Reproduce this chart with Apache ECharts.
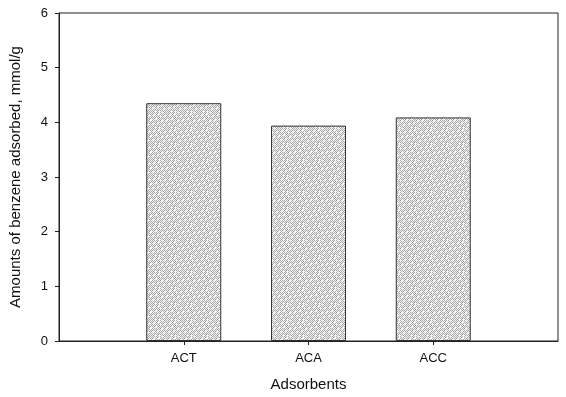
<!DOCTYPE html>
<html>
<head>
<meta charset="utf-8">
<script src="https://cdn.jsdelivr.net/npm/echarts@6/dist/echarts.min.js"></script>
<style>
  html, body { margin: 0; padding: 0; background: #fff; }
  #chart { width: 566px; height: 397px; }
</style>
</head>
<body>
<div id="chart"></div>
<script>
// Adsorbent samples and measured benzene uptake (mmol/g)
const categories = ['ACT', 'ACA', 'ACC'];
const uptake = [4.35, 3.94, 4.09];
const yTicks = [0, 1, 2, 3, 4, 5, 6];

// Empty slots at both ends so the three bars sit at positions 1..3 of a 0..4 axis
const xSlots = [''].concat(categories, ['']);
const barData = [null].concat(uptake, [null]);

// Stippled grey fill for the bars: a checker of grey dots with a few gaps
function makeStipple() {
  const n = 16;
  const c = document.createElement('canvas');
  c.width = n; c.height = n;
  const ctx = c.getContext('2d');
  ctx.fillStyle = '#f4f4f4';
  ctx.fillRect(0, 0, n, n);
  for (let y = 0; y < n; y++) {
    for (let x = 0; x < n; x++) {
      if ((x + y) % 2 !== 0) continue;
      const k = (x * 7 + y * 13) % 11;
      if (k === 3 || k === 8) continue;          // occasional missing dot
      ctx.fillStyle = k === 5 ? '#8c8c8c' : '#aaaaaa';
      ctx.fillRect(x, y, 1, 1);
    }
  }
  return c;
}

const chart = echarts.init(document.getElementById('chart'), null, { renderer: 'canvas' });
const font = 'Liberation Sans, Arial, Helvetica, sans-serif';

chart.setOption({
  animation: false,
  backgroundColor: '#ffffff',
  grid: {
    left: 59, right: 8, top: 13, bottom: 56,
    outerBoundsMode: 'none',
    containLabel: false,
    show: true, borderColor: '#222', borderWidth: 1
  },
  xAxis: {
    type: 'category',
    data: xSlots,
    boundaryGap: false,
    name: 'Adsorbents',
    nameLocation: 'middle',
    nameGap: 36,
    nameTextStyle: { fontFamily: font, fontSize: 15, color: '#111' },
    axisLine: { lineStyle: { color: '#222', width: 1 } },
    axisTick: {
      inside: false, length: 4,
      interval: (i, v) => v !== '',
      lineStyle: { color: '#222' }
    },
    axisLabel: {
      interval: 0, margin: 11,
      fontFamily: font, fontSize: 13, color: '#111'
    },
    splitLine: { show: false }
  },
  yAxis: {
    type: 'value',
    min: yTicks[0],
    max: yTicks[yTicks.length - 1],
    interval: 1,
    name: 'Amounts of benzene adsorbed, mmol/g',
    nameLocation: 'middle',
    nameGap: 36,
    nameTextStyle: { fontFamily: font, fontSize: 15, color: '#111' },
    axisLine: { show: true, lineStyle: { color: '#222', width: 1 } },
    axisTick: { show: true, inside: false, length: 4, lineStyle: { color: '#222' } },
    axisLabel: { margin: 11, fontFamily: font, fontSize: 13, color: '#111' },
    splitLine: { show: false }
  },
  series: [{
    type: 'bar',
    data: barData,
    barWidth: 75,
    itemStyle: {
      color: { image: makeStipple(), repeat: 'repeat' },
      borderColor: '#333',
      borderWidth: 1
    }
  }]
});
</script>
</body>
</html>
